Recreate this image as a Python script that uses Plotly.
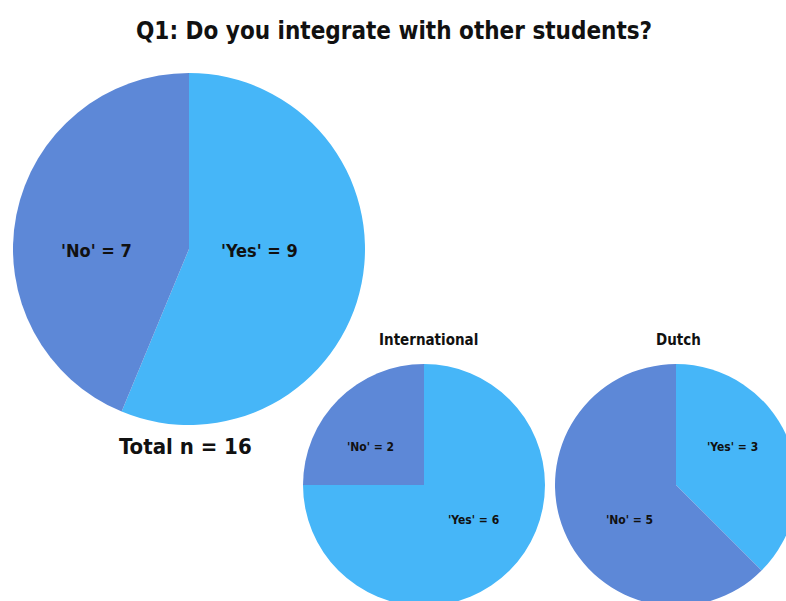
import plotly.graph_objects as go

# Survey answers: "Do you integrate with other students?"
answers = ["Yes", "No"]
total_counts = [9, 7]
international_counts = [6, 2]
dutch_counts = [3, 5]

groups = ["International", "Dutch"]
title_text = "Q1: Do you integrate with other students?"

COLORS = ["#46B6F8", "#5D88D7"]
FONT = "DejaVu Sans Condensed, Roboto, sans-serif"
INK = "#111111"

# canvas is slightly larger than the window so the lower pies run off the edge
W, H = 800, 610


def px_dom(x0, x1, y0, y1):
    """Pixel box (top-left origin) -> paper domain."""
    return dict(x=[x0 / W, x1 / W], y=[1 - y1 / H, 1 - y0 / H])


def pie(values, domain):
    return go.Pie(
        labels=answers,
        values=values,
        sort=False,
        direction="clockwise",
        rotation=0,
        marker=dict(colors=COLORS, line=dict(width=0)),
        textinfo="none",
        hoverinfo="label+value",
        showlegend=False,
        domain=domain,
    )


fig = go.Figure()
fig.add_trace(pie(total_counts, px_dom(13, 365, 73, 425)))
fig.add_trace(pie(international_counts, px_dom(303, 545, 364, 606)))
fig.add_trace(pie(dutch_counts, px_dom(555, 797, 364, 606)))


def text(s, x, y, size):
    return dict(
        text=f"<b>{s}</b>",
        x=x / W, y=1 - y / H, xref="paper", yref="paper",
        showarrow=False, font=dict(family=FONT, size=size, color=INK),
        xanchor="center", yanchor="middle",
    )


def label(ans, val, x, y, size):
    return text(f"'{ans}' = {val}", x, y, size)


ann = [
    text(title_text, 394, 31, 24),
    text(f"Total n = {sum(total_counts)}", 185, 446, 22),
    text(groups[0], 428, 340, 15),
    text(groups[1], 678, 340, 15),
    label(answers[1], total_counts[1], 96, 250, 18),
    label(answers[0], total_counts[0], 259, 250, 18),
    label(answers[1], international_counts[1], 370, 447, 12),
    label(answers[0], international_counts[0], 473, 520, 12),
    label(answers[0], dutch_counts[0], 732, 447, 12),
    label(answers[1], dutch_counts[1], 629, 520, 12),
]

fig.update_layout(
    width=W, height=H,
    margin=dict(l=0, r=0, t=0, b=0),
    paper_bgcolor="white",
    plot_bgcolor="white",
    annotations=ann,
)

fig.write_html(
    "out.html",
    config={"displayModeBar": False},
    post_script="document.body.style.overflow='hidden';document.documentElement.style.overflow='hidden';",
)
